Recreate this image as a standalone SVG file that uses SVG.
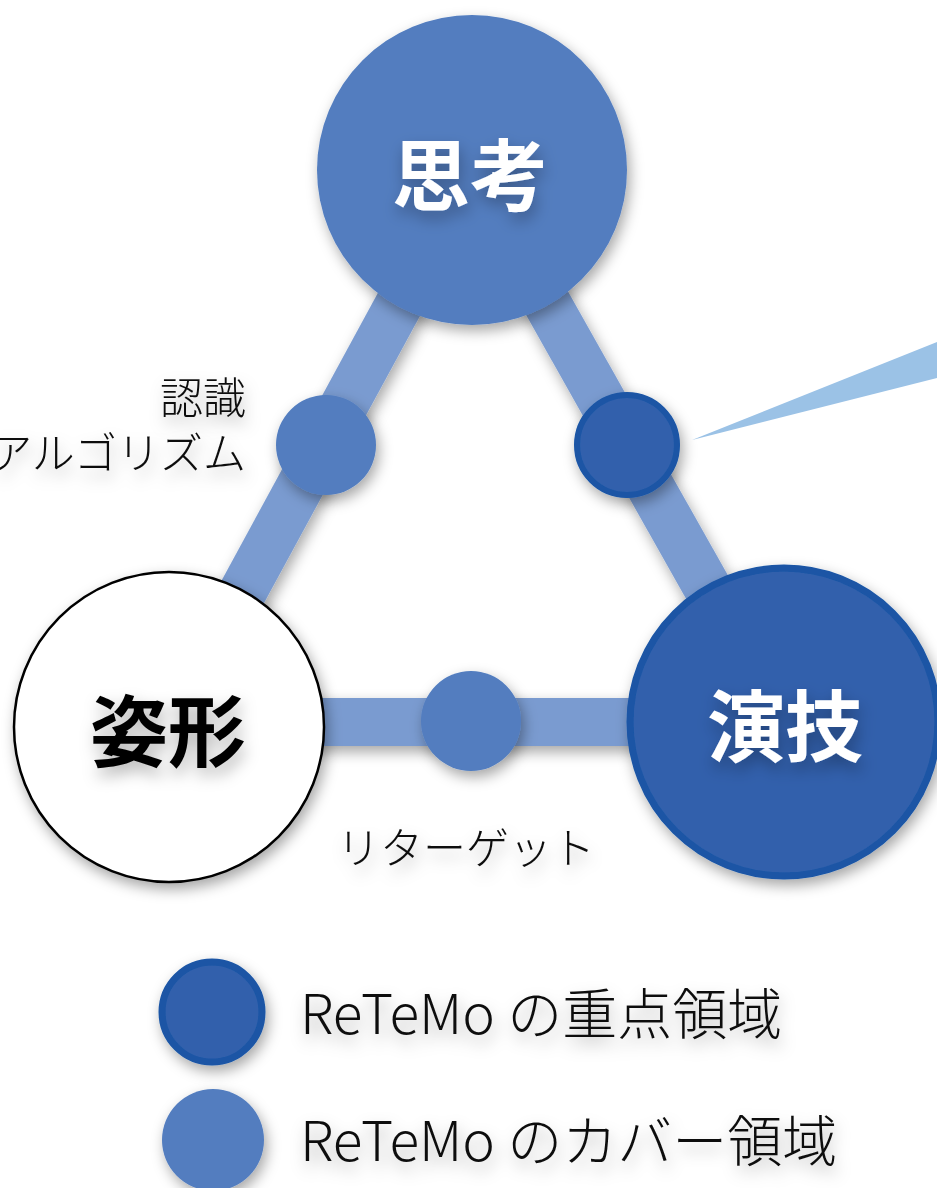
<svg xmlns="http://www.w3.org/2000/svg" width="937" height="1188" viewBox="0 0 937 1188">
<defs>
<filter id="sh" x="-30%" y="-30%" width="160%" height="160%">
<feDropShadow dx="3" dy="6" stdDeviation="7" flood-color="#000" flood-opacity="0.35"/>
</filter>
<filter id="tsh" x="-30%" y="-30%" width="160%" height="160%">
<feDropShadow dx="2" dy="8" stdDeviation="8" flood-color="#000" flood-opacity="0.3"/>
</filter>
<style>
.band{stroke:#7a9bd0;stroke-width:48;fill:none}
.cover{fill:#527dbf}
.focus{fill:#3060ac;stroke:#1a55a5}
.big{font-family:"Noto Sans CJK JP","Noto Sans",sans-serif;font-weight:bold;font-size:78px;text-anchor:middle}
.lab{font-family:"Noto Sans CJK JP","Noto Sans",sans-serif;font-size:43px;font-weight:300;fill:#111}
.leg{font-family:"Noto Sans CJK JP","Noto Sans",sans-serif;font-size:55px;font-weight:300;fill:#111}
</style>
</defs>
<rect width="937" height="1188" fill="#fff"/>
<g id="connectors" filter="url(#sh)">
<line class="band" x1="472" y1="170" x2="172" y2="722"/>
<line class="band" x1="472" y1="170" x2="783" y2="722"/>
<line class="band" x1="172" y1="722" x2="783" y2="722"/>
</g>
<g id="callout">
<polygon points="692,440 937,342 937,378" fill="#9bc2e6"/>
</g>
<g id="node-shikou">
<circle class="cover" cx="472" cy="170" r="155" filter="url(#sh)"/>
<text class="big" x="470" y="205" fill="#fff" filter="url(#tsh)">思考</text>
</g>
<g id="node-shikei">
<circle cx="169" cy="727" r="155" fill="#fff" stroke="#000" stroke-width="2.5" filter="url(#sh)"/>
<text class="big" x="168" y="761" fill="#000" filter="url(#tsh)">姿形</text>
</g>
<g id="node-engi">
<circle class="focus" cx="784" cy="722" r="154" stroke-width="7" filter="url(#sh)"/>
<text class="big" x="785" y="756" fill="#fff" filter="url(#tsh)">演技</text>
</g>
<g id="node-ninshiki">
<circle class="cover" cx="326" cy="445" r="50" filter="url(#sh)"/>
<text class="lab" x="246" y="414" text-anchor="end" filter="url(#tsh)">認識</text>
<text class="lab" x="246" y="469" text-anchor="end" filter="url(#tsh)">アルゴリズム</text>
</g>
<g id="node-right">
<circle class="focus" cx="627" cy="445" r="50" stroke-width="6" filter="url(#sh)"/>
</g>
<g id="node-retarget">
<circle class="cover" cx="471" cy="721" r="50" filter="url(#sh)"/>
<text class="lab" x="466" y="864" text-anchor="middle" filter="url(#tsh)">リターゲット</text>
</g>
<g id="legend-focus">
<circle class="focus" cx="212" cy="1012" r="50" stroke-width="7" filter="url(#sh)"/>
<text class="leg" x="300" y="1034" filter="url(#tsh)">ReTeMo の重点領域</text>
</g>
<g id="legend-cover">
<circle class="cover" cx="213" cy="1140" r="51" filter="url(#sh)"/>
<text class="leg" x="300" y="1161" filter="url(#tsh)">ReTeMo のカバー領域</text>
</g>
</svg>
